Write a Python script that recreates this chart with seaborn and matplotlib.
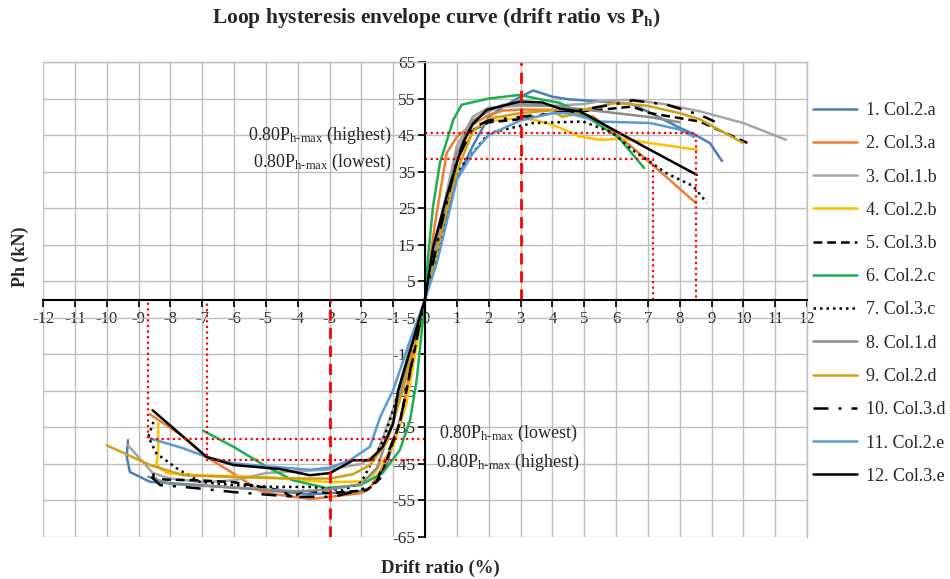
import matplotlib
matplotlib.use("Agg")
import matplotlib.pyplot as plt
import pandas as pd
import seaborn as sns

# drift ratio (%) and Ph (kN)
col2a_x = [-9.33, -9.37, -9.27, -8.64, -7.07, -5.2, -3.6, -2.04, -1.73, -1.2, -0.69, -0.3, 0,
           0.5, 1, 1.5, 2, 2.5, 3, 3.4, 4, 4.5, 5.5, 6.5, 7.1, 8, 8.5, 8.95, 9.33]
col2a_y = [-38.5, -43, -47.2, -49.9, -50.8, -52, -53.3, -52.5, -51.6, -45, -30, -13, 0,
           18, 33, 42, 50, 53, 55.5, 57.2, 55.5, 54.8, 54.2, 53.5, 51, 47, 45, 42.8, 37.9]

col3a_x = [-8.64, -7.6, -6.86, -6.02, -5.18, -4.55, -3.61, -2.98, -2, -1.73, -1.2, -0.79, -0.4, 0,
           0.3, 0.68, 1.0, 1.41, 2.0, 2.45, 3, 4.02, 4.5, 5.28, 6.23, 7, 8.51]
col3a_y = [-31.4, -37.5, -43.1, -47.6, -52.4, -53.5, -54.6, -54, -53, -51.6, -44, -33.8, -17, 0,
           20, 40.1, 44.5, 47.4, 50.5, 51.7, 52, 51.9, 51, 50.1, 43.7, 38, 26.4]

col1b_x = [-9.33, -8.55, -8, -7, -6, -5, -4, -3, -2, -1.5, -1, -0.5, 0,
           0.5, 1, 1.5, 2, 3, 4, 5, 5.5, 6.5, 7.5, 8.64, 10, 11.34]
col1b_y = [-39.9, -47.5, -49, -50, -49.5, -47.5, -47, -46.5, -45, -42, -30, -14, 0,
           22, 42, 50, 52.5, 53, 53, 53.5, 54.3, 54.7, 53.5, 51.5, 48.3, 43.7]

col2b_x = [-8.38, -8.38, -8.44, -8.12, -7.07, -5, -3.93, -2.98, -2.04, -1.63, -1, -0.58, -0.25, 0,
           0.5, 1, 1.5, 1.94, 2.98, 3.5, 4.02, 4.87, 5.5, 6.2, 7.07, 8.54]
col2b_y = [-33.9, -41.2, -45.3, -47.5, -48.1, -48.6, -49.4, -50, -49.8, -48, -40.3, -28.4, -12, 0,
           20, 38, 46, 48.7, 49.7, 49, 47.8, 44.6, 43.7, 44, 42.8, 41]

col3b_x = [-8.53, -8.53, -8.12, -7.07, -6.02, -4.55, -4.14, -3.83, -2.98, -1.83, -1.41, -0.79, -0.16, 0,
           0.5, 1, 1.3, 2, 2.98, 4.02, 5.5, 6.5, 7.07, 8.64, 10.27]
col3b_y = [-47.6, -49, -49.3, -49.5, -50, -52.2, -54.2, -52.3, -53, -52.2, -49, -33.8, -6.5, 0,
           20, 38, 45.5, 48.5, 49.3, 51, 51.9, 52.8, 51, 48.7, 42.3]

col2c_x = [-6.97, -6.02, -4.97, -4.14, -3.09, -2.04, -1.33, -0.79, -0.47, -0.26, -0.1, 0,
           0.1, 0.25, 0.47, 0.89, 1.15, 2, 2.98, 3.5, 4.24, 5, 6.1, 6.88]
col2c_y = [-35.9, -40.3, -45.8, -49.5, -51.6, -50.8, -47.5, -41.2, -33, -22, -8.4, 0,
           12, 25.4, 37.4, 49.2, 53.3, 55, 56, 55, 53.8, 50.5, 44.2, 36]

col3c_x = [-8.53, -8.69, -8.44, -7.8, -7.07, -6.02, -4.66, -3.61, -2.57, -2, -1.31, -1, -0.5, 0,
           0.5, 1, 1.4, 2, 2.89, 3.4, 4.97, 5.9, 6.5, 7.6, 8.43, 8.85]
col3c_y = [-33.5, -37.6, -42.1, -46.2, -49.9, -50.8, -51.3, -51.3, -52.2, -50, -38.5, -30.3, -16, 0,
           16, 35, 39, 45.5, 47.3, 48.3, 48.7, 45.6, 41, 34.5, 31, 26.5]

col1d_x = [-8.7, -8, -6, -4, -3, -2, -1.5, -1, -0.5, 0,
           0.5, 1, 1.5, 2, 2.45, 3, 4, 5, 6, 7, 8]
col1d_y = [-48.5, -50.5, -51.5, -52.5, -52, -50.5, -46, -33, -16, 0,
           20, 40, 49, 51.5, 53.3, 53.5, 53, 52, 51, 50, 48.5]

col2d_x = [-10, -8.64, -7.6, -6.02, -4.55, -3.61, -2.98, -2.26, -1.73, -1.2, -0.69, -0.3, 0,
           0.5, 1, 1.5, 2, 3, 4, 4.3, 4.6, 5, 6, 7, 8, 8.64, 10]
col2d_y = [-39.9, -45.3, -48.1, -48.6, -48.9, -49, -49, -47.8, -45.3, -39, -24.8, -10, 0,
           18, 35, 46, 49.5, 51, 51.8, 50, 50.5, 52, 53.8, 53, 51, 49.3, 42.8]

col3d_x = [-8.6, -8.32, -7.59, -6.55, -6.02, -4.55, -3.93, -2.89, -2.04, -1.52, -0.79, -0.3, 0,
           0.5, 1, 1.5, 2, 3, 4, 5, 6, 6.53, 7.6, 8.64, 9.1]
col3d_y = [-48.5, -50.8, -51.3, -52.2, -52.7, -53.7, -54, -54, -52.2, -49.9, -33.8, -12, 0,
           20, 38, 47, 49, 50, 51, 52, 53.5, 54.5, 53.3, 50.5, 48.7]

col2e_x = [-8.64, -7.6, -6.86, -6.02, -5.18, -3.61, -2.98, -2.36, -1.73, -1.4, -1, -0.5, 0,
           0.37, 1, 1.5, 2, 3, 4, 4.5, 5.5, 7.07, 8, 8.45]
col2e_y = [-38, -40.7, -43.1, -44.8, -45.5, -46.6, -46, -44, -40.3, -32, -24.8, -12, 0,
           9.9, 32.7, 40, 45, 49, 51, 51, 48.7, 48.3, 46.5, 44.5]

col3e_x = [-8.56, -7.59, -6.86, -6.02, -4.55, -3.61, -2.98, -2.26, -1.73, -1.33, -1, -0.84, -0.4, 0,
           0.26, 0.68, 1.2, 1.5, 1.94, 2.98, 3.7, 4.24, 4.87, 6.1, 7, 8.54]
col3e_y = [-30.3, -37.6, -43.1, -45.3, -46.4, -48.1, -47.5, -44, -44, -40.3, -34, -24.8, -12, 0,
           14.5, 28.2, 43, 48, 51.9, 54.2, 53.9, 52.2, 51.5, 45.6, 41.3, 34.1]

labels = ["1. Col.2.a", "2. Col.3.a", "3. Col.1.b", "4. Col.2.b", "5. Col.3.b", "6. Col.2.c",
          "7. Col.3.c", "8. Col.1.d", "9. Col.2.d", "10. Col.3.d", "11. Col.2.e", "12. Col.3.e"]

# 0.80 Ph-max reference levels and the drifts where they are reached
ref_pos_high, ref_pos_low = 45.5, 38.4
ref_pos_drift_high, ref_pos_drift_low = 8.5, 7.15
ref_neg_low, ref_neg_high = -38.2, -44.0
ref_neg_drift_low, ref_neg_drift_high = -8.7, -6.85
peak_drift = 3

series = [
    (col2a_x, col2a_y, "#4A7EBB", "-"),
    (col3a_x, col3a_y, "#ED7D31", "-"),
    (col1b_x, col1b_y, "#A5A5A5", "-"),
    (col2b_x, col2b_y, "#FFC000", "-"),
    (col3b_x, col3b_y, "black", (0, (3.5, 2))),
    (col2c_x, col2c_y, "#19B04F", "-"),
    (col3c_x, col3c_y, "black", (0, (1, 1.6))),
    (col1d_x, col1d_y, "#8C8C8C", "-"),
    (col2d_x, col2d_y, "#D09F12", "-"),
    (col3d_x, col3d_y, "black", (0, (6, 4, 1.2, 4))),
    (col2e_x, col2e_y, "#5B9BD5", "-"),
    (col3e_x, col3e_y, "black", "-"),
]

sns.set_theme(style="white")
plt.rcParams["font.family"] = ["Liberation Serif", "DejaVu Serif"]
plt.rcParams["mathtext.fontset"] = "custom"
plt.rcParams["mathtext.rm"] = "Liberation Serif"
plt.rcParams["mathtext.bf"] = "Liberation Serif:bold"
plt.rcParams["mathtext.it"] = "Liberation Serif:italic"
plt.rcParams["axes.unicode_minus"] = False

fig = plt.figure(figsize=(9.5, 5.79), dpi=100)
ax = fig.add_axes([43 / 950, 1 - 537 / 579, 764 / 950, 475 / 579])

for (x, y, color, ls), name in zip(series, labels):
    df = pd.DataFrame({"drift": x, "ph": y})
    sns.lineplot(data=df, x="drift", y="ph", sort=False, estimator=None, color=color,
                 linestyle=ls, linewidth=1.8, label=name, ax=ax)

# reference lines
red = "#FF0000"
ax.plot([peak_drift, peak_drift], [0, 65], color=red, lw=2, ls=(0, (4, 2.5)))
ax.plot([-peak_drift, -peak_drift], [-65, 0], color=red, lw=2, ls=(0, (4, 2.5)))
dot = dict(color=red, lw=1.6, ls=(0, (1, 1.5)))
ax.plot([0, ref_pos_drift_high, ref_pos_drift_high], [ref_pos_high, ref_pos_high, 0], **dot)
ax.plot([0, ref_pos_drift_low, ref_pos_drift_low], [ref_pos_low, ref_pos_low, 0], **dot)
ax.plot([0, ref_neg_drift_low, ref_neg_drift_low], [ref_neg_low, ref_neg_low, 0], **dot)
ax.plot([0, ref_neg_drift_high, ref_neg_drift_high], [ref_neg_high, ref_neg_high, 0], **dot)

lab = r"0.80P$_{\mathrm{h\text{-}max}}$"
ax.text(-1.05, 44.8, lab + " (highest)", ha="right", va="center", fontsize=13)
ax.text(-1.05, 37.6, lab + " (lowest)", ha="right", va="center", fontsize=13)
ax.text(0.45, -36.6, lab + " (lowest)", ha="left", va="center", fontsize=13)
ax.text(0.35, -44.6, lab + " (highest)", ha="left", va="center", fontsize=13)

ax.set_xlim(-12, 12)
ax.set_ylim(-65, 65)
ax.set_xticks(range(-12, 13))
ax.set_yticks(range(-65, 66, 10))
ax.grid(True, color="#BDBDBD", lw=1)
ax.set_axisbelow(True)
ax.spines["left"].set_position(("data", 0))
ax.spines["bottom"].set_position(("data", 0))
for s in ["left", "bottom"]:
    ax.spines[s].set_color("black")
    ax.spines[s].set_linewidth(1.5)
for s in ["top", "right"]:
    ax.spines[s].set_color("#BDBDBD")
    ax.spines[s].set_linewidth(1)
ax.tick_params(axis="both", which="major", direction="out", length=5, width=1.2, color="black")
ax.tick_params(axis="y", left=True, pad=2, labelsize=12.5)
ax.tick_params(axis="x", bottom=True, pad=3, labelsize=12)
ax.set_xlabel("")
ax.set_ylabel("")

ax.get_legend().remove()
handles, texts = ax.get_legend_handles_labels()
fig.legend(handles[:12], texts[:12], loc="upper left", bbox_to_anchor=(813 / 950, 1 - 102 / 579),
           frameon=False, fontsize=13, borderpad=0, borderaxespad=0, handlelength=2.45,
           handletextpad=0.5, labelspacing=0.9)

fig.text(437 / 950, 1 - 18 / 579, r"Loop hysteresis envelope curve (drift ratio vs P$_{\mathbf{h}}$)",
         ha="center", va="center", fontsize=15.5, fontweight="bold")
fig.text(440 / 950, 1 - 568 / 579, "Drift ratio (%)", ha="center", va="center",
         fontsize=13.5, fontweight="bold")
fig.text(20 / 950, 1 - 257 / 579, "Ph (kN)", ha="center", va="center", rotation=90,
         fontsize=13, fontweight="bold")

fig.savefig("out.png", dpi=100)
